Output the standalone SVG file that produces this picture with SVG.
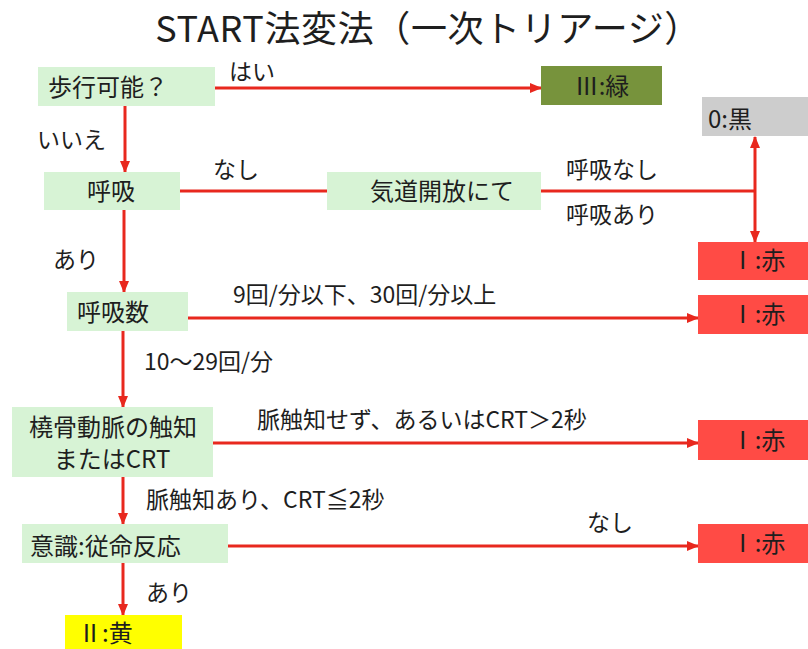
<svg xmlns="http://www.w3.org/2000/svg" width="808" height="649" viewBox="0 0 808 649">
<defs>
<marker id="ah" markerUnits="userSpaceOnUse" markerWidth="12" markerHeight="12" viewBox="0 0 12 12" refX="11" refY="6" orient="auto-start-reverse">
<path d="M0,1 L12,6 L0,11 Z" fill="#e8281e"/>
</marker>
<style>
text{font-family:"Noto Sans CJK JP","Noto Sans",sans-serif;fill:#1e1e1e}
.t{font-size:36px}
.n{font-size:24px}
.l{font-size:23px}
.g{fill:#d7f3d5}
.r{fill:#ff4b45}
.e{stroke:#e8281e;stroke-width:3;fill:none}
.a{marker-end:url(#ah)}
</style>
</defs>
<rect width="808" height="649" fill="#ffffff"/>
<text class="t" x="428" y="42" text-anchor="middle" letter-spacing="0.6">START法変法（一次トリアージ）</text>

<g id="connectors">
<line class="e a" x1="215" y1="88" x2="541" y2="88"/>
<line class="e a" x1="125" y1="106" x2="125" y2="172"/>
<line class="e" x1="180" y1="191" x2="327" y2="191"/>
<line class="e" x1="541" y1="191" x2="755" y2="191"/>
<line class="e a" x1="755" y1="191" x2="755" y2="137"/>
<line class="e a" x1="755" y1="191" x2="755" y2="242"/>
<line class="e a" x1="124" y1="210" x2="124" y2="292"/>
<line class="e a" x1="188" y1="318" x2="698" y2="318"/>
<line class="e a" x1="123" y1="331" x2="123" y2="407"/>
<line class="e a" x1="213" y1="443" x2="698" y2="443"/>
<line class="e a" x1="123" y1="477" x2="123" y2="524"/>
<line class="e a" x1="228" y1="546" x2="698" y2="546"/>
<line class="e a" x1="123" y1="563" x2="123" y2="615"/>
<g>
<text class="l" x="229" y="80">はい</text>
<text class="l" x="37" y="148">いいえ</text>
<text class="l" x="213" y="178">なし</text>
<text class="l" x="566" y="178">呼吸なし</text>
<text class="l" x="566" y="223">呼吸あり</text>
<text class="l" x="53" y="268">あり</text>
<text class="l" x="233" y="303">9回/分以下、30回/分以上</text>
<text class="l" x="144" y="370">10〜29回/分</text>
<text class="l" x="257" y="428">脈触知せず、あるいはCRT＞2秒</text>
<text class="l" x="146" y="508">脈触知あり、CRT≦2秒</text>
<text class="l" x="587" y="531">なし</text>
<text class="l" x="146" y="601">あり</text>
</g>
</g>

<g id="walk">
<rect class="g" x="38" y="67" width="177" height="39"/>
<text class="n" x="48" y="96">歩行可能？</text>
</g>
<g id="green">
<rect x="541" y="66" width="121" height="39" fill="#77933c"/>
<text class="n" x="602" y="95" text-anchor="middle">Ⅲ:緑</text>
</g>
<g id="black">
<rect x="702" y="97" width="106" height="39" fill="#cdcdcd"/>
<text class="n" x="708" y="128">0:黒</text>
</g>
<g id="breath">
<rect class="g" x="44" y="172" width="136" height="38"/>
<text class="n" x="111" y="200" text-anchor="middle">呼吸</text>
</g>
<g id="airway">
<rect class="g" x="327" y="172" width="214" height="38"/>
<text class="n" x="442" y="200" text-anchor="middle">気道開放にて</text>
</g>
<g id="red1">
<rect class="r" x="698" y="242" width="110" height="38"/>
<text class="n" x="758" y="269" text-anchor="middle">Ⅰ:赤</text>
</g>
<g id="rate">
<rect class="g" x="67" y="292" width="121" height="39"/>
<text class="n" x="113" y="321" text-anchor="middle">呼吸数</text>
</g>
<g id="red2">
<rect class="r" x="698" y="295" width="110" height="39"/>
<text class="n" x="758" y="323" text-anchor="middle">Ⅰ:赤</text>
</g>
<g id="pulse">
<rect class="g" x="12" y="407" width="201" height="70"/>
<text class="n" x="113" y="436" text-anchor="middle">橈骨動脈の触知</text>
<text class="n" x="112" y="468" text-anchor="middle">またはCRT</text>
</g>
<g id="red3">
<rect class="r" x="698" y="420" width="110" height="40"/>
<text class="n" x="758" y="449" text-anchor="middle">Ⅰ:赤</text>
</g>
<g id="conscious">
<rect class="g" x="22" y="524" width="206" height="39"/>
<text class="n" x="30" y="555">意識:従命反応</text>
</g>
<g id="red4">
<rect class="r" x="698" y="524" width="110" height="39"/>
<text class="n" x="758" y="552" text-anchor="middle">Ⅰ:赤</text>
</g>
<g id="yellow">
<rect x="65" y="615" width="117" height="40" fill="#ffff00"/>
<text class="n" x="78" y="642">Ⅱ:黄</text>
</g>
</svg>
